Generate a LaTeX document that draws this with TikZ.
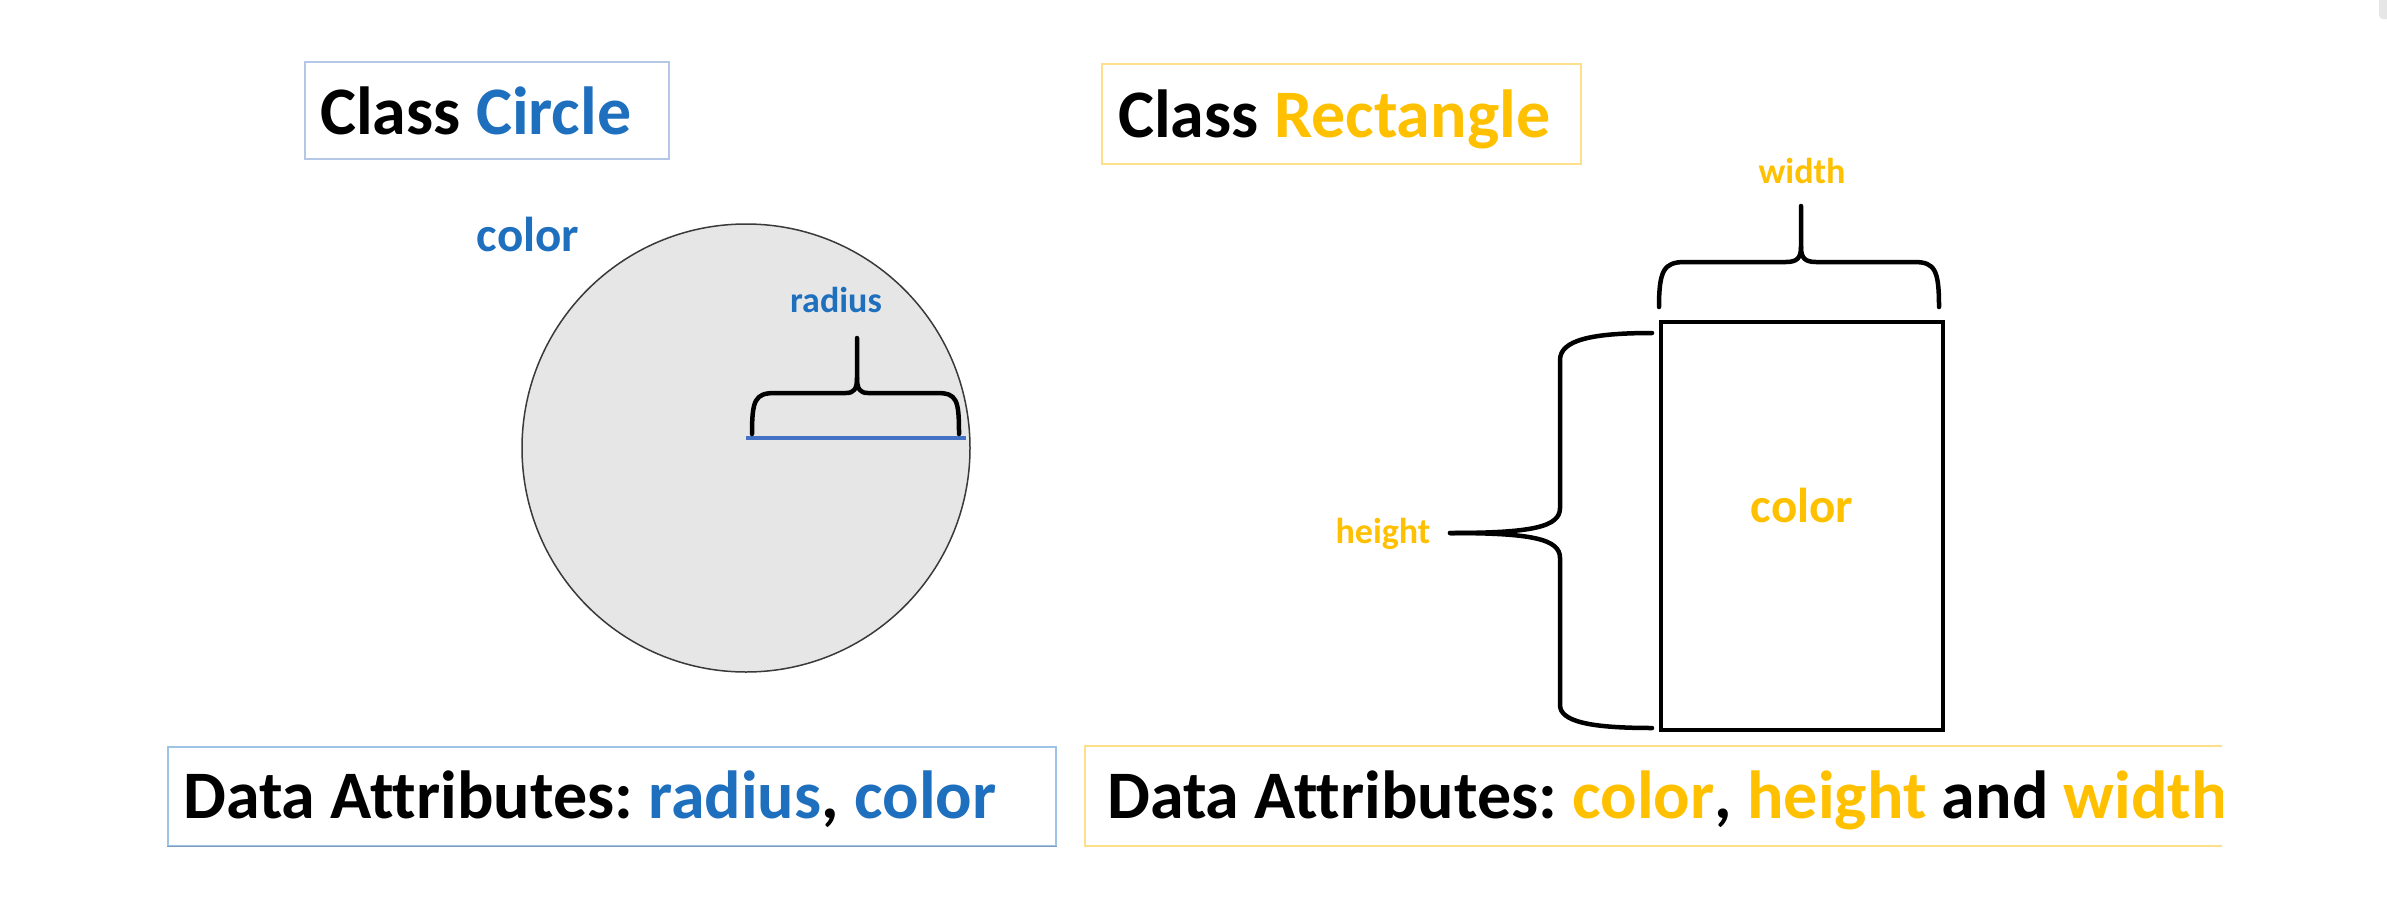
\documentclass[tikz,border=0pt]{standalone}
\usepackage{fontspec}
\setmainfont{Carlito}[Ligatures=NoCommon]
\definecolor{cblue}{HTML}{1F6FBF}
\definecolor{lineblue}{HTML}{4472C4}
\definecolor{corange}{HTML}{FFC000}
\definecolor{circfill}{HTML}{E6E6E6}
\definecolor{circedge}{HTML}{3A3A3A}
\definecolor{tblue}{HTML}{B4C7E7}
\definecolor{bblue}{HTML}{9DC3E6}
\definecolor{torange}{HTML}{FFE08A}
\frenchspacing
\begin{document}
\frenchspacing
\begin{tikzpicture}[x=1pt,y=-1pt,
  brace/.style={line width=4.5pt, line cap=round, line join=round, black},
  tbox/.style={draw, line width=1.6pt, inner sep=0pt, anchor=north west},
  bigtxt/.style={inner sep=0pt, anchor=base west, font=\fontsize{68}{72}\selectfont\bfseries},
  bottxt/.style={inner sep=0pt, anchor=base west, font=\fontsize{68}{72}\selectfont\bfseries},
  midlbl/.style={inner sep=0pt, anchor=base, font=\fontsize{49}{53}\selectfont\bfseries},
  smalllbl/.style={inner sep=0pt, anchor=base, font=\fontsize{36}{40}\selectfont\bfseries}]
\fill[white] (0,0) rectangle (2387,921);
\useasboundingbox (0,0) rectangle (2387,921);
% scrollbar artifact
\fill[circfill, rounded corners=4pt] (2379,-10) rectangle (2393,19);

% ---- titles
\node[tbox, draw=tblue, minimum width=364pt, minimum height=97pt] (cbox) at (304,61) {};
\node[bigtxt] (ctitle) at (320,134) {Class \textcolor{cblue}{Circle}};
\node[tbox, draw=torange, minimum width=479pt, minimum height=100pt] (rbox) at (1101,63) {};
\node[bigtxt] (rtitle) at (1118,137) {Class \textcolor{corange}{Rectangle}};

% ---- circle
\node[circle, draw=circedge, fill=circfill, line width=1.5pt, minimum size=448pt, inner sep=0pt] (circ) at (746,448) {};
\coordinate (rc) at (746,438);
\coordinate (re) at (966,438);
\draw[lineblue, line width=4.5pt] (rc) -- (re);
\draw[brace] (752,434) .. controls (752,400) and (755,393) .. (775,393) -- (846,393)
   .. controls (854,393) and (857,389) .. (857,378) -- (857,338);
\draw[brace] (857,378) .. controls (857,389) and (860,393) .. (868,393) -- (937,393)
   .. controls (957,393) and (959,400) .. (959,434);
\node[smalllbl, text=cblue] (rlbl) at (836,312) {radius};
\node[midlbl, text=cblue] (ccol) at (528,251) {color};

% ---- rectangle
\node[draw, line width=4pt, minimum width=282pt, minimum height=408pt, anchor=north west, inner sep=0pt] (rect) at (1659,320) {};
\node[midlbl, text=corange] (rcol) at (1802,522) {color};
\draw[brace] (1659,307) .. controls (1659,270) and (1664,262) .. (1685,262) -- (1786,262)
   .. controls (1797,262) and (1801,258) .. (1801,247) -- (1801,206);
\draw[brace] (1801,247) .. controls (1801,258) and (1805,262) .. (1816,262) -- (1914,262)
   .. controls (1935,262) and (1939,270) .. (1939,307);
\node[smalllbl, text=corange] (wlbl) at (1802,183) {width};
\draw[brace] (1652,333) .. controls (1592,333) and (1560,340) .. (1560,360) -- (1560,508)
   .. controls (1560,527) and (1532,533) .. (1450,533);
\draw[brace] (1450,533) .. controls (1532,533) and (1560,539) .. (1560,558) -- (1560,705)
   .. controls (1560,722) and (1592,728) .. (1652,728);
\node[smalllbl, text=corange] (hlbl) at (1383,543) {height};

% ---- bottom boxes
\node[tbox, draw=bblue, minimum width=888pt, minimum height=99pt] (lbox) at (167,746) {};
\draw[bblue!80!black, line width=1.5pt] (lbox.south west) -- (lbox.south east);
\node[bottxt] (ltext) at (183,818) {Data Attributes: \textcolor{cblue}{radius}, \textcolor{cblue}{color}};
\coordinate (rbtr) at (2222,746);
\coordinate (rbtl) at (1085,746);
\coordinate (rbbl) at (1085,846);
\coordinate (rbbr) at (2222,846);
\draw[torange, line width=1.6pt] (rbtr) -- (rbtl) -- (rbbl) -- (rbbr);
\begin{scope}
\clip (1085,700) rectangle (2222,900);
\node[bottxt] (rtext) at (1107,818) {Data Attributes: \textcolor{corange}{color}, \textcolor{corange}{height} and \textcolor{corange}{width}};
\end{scope}
\end{tikzpicture}
\end{document}
